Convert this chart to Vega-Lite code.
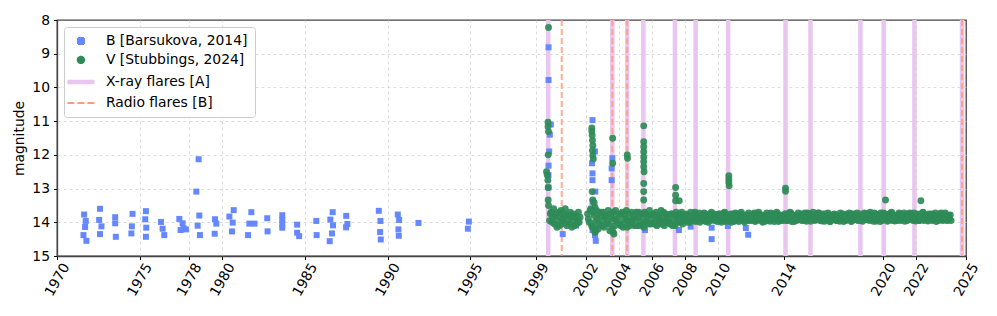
{
  "$schema": "https://vega.github.io/schema/vega-lite/v6.json",
  "width": 909,
  "height": 236,
  "autosize": {"type": "none"},
  "padding": {"left": 57, "top": 20, "right": 31, "bottom": 60},
  "config": {
    "font": "DejaVu Sans",
    "view": {"stroke": "#444444", "strokeWidth": 1.3},
    "axis": {
      "labelFont": "DejaVu Sans", "labelFontSize": 13.9, "labelColor": "black",
      "titleFont": "DejaVu Sans", "titleFontSize": 13.9, "titleFontWeight": "normal", "titleColor": "black",
      "domainColor": "#444444", "domainWidth": 1.3,
      "tickColor": "black", "tickSize": 3.5, "tickWidth": 1,
      "gridColor": "#d3d3d3", "gridDash": [3, 3], "gridWidth": 0.8
    },
    "axisY": {"labelOverlap": false, "labelFlush": false}
  },
  "datasets": {
    "xray": [
      {"t": 1999.72, "s": "X-ray flares [A]"}, {"t": 2003.6, "s": "X-ray flares [A]"}, {"t": 2004.5, "s": "X-ray flares [A]"},
      {"t": 2005.48, "s": "X-ray flares [A]"}, {"t": 2007.39, "s": "X-ray flares [A]"}, {"t": 2008.64, "s": "X-ray flares [A]"},
      {"t": 2010.61, "s": "X-ray flares [A]"}, {"t": 2014.08, "s": "X-ray flares [A]"}, {"t": 2015.59, "s": "X-ray flares [A]"},
      {"t": 2018.61, "s": "X-ray flares [A]"}, {"t": 2020.02, "s": "X-ray flares [A]"}, {"t": 2021.88, "s": "X-ray flares [A]"},
      {"t": 2024.76, "s": "X-ray flares [A]"}
    ],
    "radio": [
      {"t": 2000.54, "s": "Radio flares [B]"}, {"t": 2003.6, "s": "Radio flares [B]"},
      {"t": 2004.5, "s": "Radio flares [B]"}, {"t": 2024.76, "s": "Radio flares [B]"}
    ],
    "B": [
      {"t":1971.64,"m":13.77},{"t":1971.74,"m":13.96},{"t":1971.70,"m":14.14},{"t":1971.60,"m":14.38},{"t":1971.78,"m":14.55},
      {"t":1972.60,"m":13.60},{"t":1972.55,"m":13.93},{"t":1972.69,"m":14.12},{"t":1972.60,"m":14.35},
      {"t":1973.52,"m":13.85},{"t":1973.52,"m":14.03},{"t":1973.56,"m":14.43},
      {"t":1974.57,"m":13.75},{"t":1974.53,"m":14.12},{"t":1974.50,"m":14.33},
      {"t":1975.38,"m":13.67},{"t":1975.34,"m":13.91},{"t":1975.40,"m":14.16},{"t":1975.38,"m":14.43},
      {"t":1976.29,"m":13.99},{"t":1976.39,"m":14.19},{"t":1976.49,"m":14.38},
      {"t":1977.40,"m":13.90},{"t":1977.60,"m":14.03},{"t":1977.66,"m":14.18},{"t":1977.80,"m":14.21},{"t":1977.48,"m":14.23},
      {"t":1978.57,"m":12.13},{"t":1978.43,"m":13.09},{"t":1978.61,"m":13.80},{"t":1978.51,"m":14.10},{"t":1978.65,"m":14.38},
      {"t":1979.56,"m":13.91},{"t":1979.64,"m":14.04},{"t":1979.54,"m":14.34},
      {"t":1980.43,"m":13.83},{"t":1980.69,"m":13.64},{"t":1980.63,"m":14.01},{"t":1980.59,"m":14.27},
      {"t":1981.76,"m":13.70},{"t":1981.64,"m":14.04},{"t":1981.95,"m":14.04},{"t":1981.56,"m":14.38},
      {"t":1982.72,"m":13.88},{"t":1982.74,"m":14.27},
      {"t":1983.63,"m":13.79},{"t":1983.63,"m":13.93},{"t":1983.63,"m":14.06},{"t":1983.63,"m":14.16},
      {"t":1984.53,"m":14.07},{"t":1984.53,"m":14.31},{"t":1984.65,"m":14.41},
      {"t":1985.69,"m":13.96},{"t":1985.71,"m":14.38},
      {"t":1986.68,"m":13.70},{"t":1986.54,"m":13.92},{"t":1986.70,"m":14.09},{"t":1986.64,"m":14.33},{"t":1986.50,"m":14.56},
      {"t":1987.50,"m":13.81},{"t":1987.57,"m":14.05},{"t":1987.49,"m":14.15},
      {"t":1989.47,"m":13.66},{"t":1989.57,"m":13.96},{"t":1989.55,"m":14.29},{"t":1989.59,"m":14.51},
      {"t":1990.62,"m":13.77},{"t":1990.70,"m":13.93},{"t":1990.66,"m":14.21},{"t":1990.68,"m":14.40},
      {"t":1991.87,"m":14.02},{"t":1994.92,"m":13.98},{"t":1994.86,"m":14.19},
      {"t":1999.74,"m":8.81},{"t":1999.74,"m":9.78},{"t":1999.88,"m":11.1},{"t":1999.82,"m":11.4},{"t":1999.78,"m":11.9},
      {"t":1999.74,"m":12.32},{"t":1999.74,"m":12.6},{"t":1999.74,"m":12.97},
      {"t":2000.6,"m":14.35},{"t":2001.4,"m":14.1},
      {"t":2002.4,"m":10.97},{"t":2002.55,"m":11.9},{"t":2002.37,"m":12.25},{"t":2002.4,"m":12.55},{"t":2002.4,"m":12.75},
      {"t":2002.57,"m":13.09},{"t":2002.4,"m":13.39},{"t":2002.4,"m":14.23},{"t":2002.55,"m":14.38},{"t":2002.6,"m":14.55},
      {"t":2003.6,"m":12.1},{"t":2003.56,"m":12.4},{"t":2003.56,"m":12.75},
      {"t":2005.58,"m":14.23},{"t":2006.32,"m":14.06},{"t":2007.63,"m":14.23},{"t":2008.34,"m":14.13},
      {"t":2009.61,"m":14.16},{"t":2009.61,"m":14.5},{"t":2010.59,"m":14.11},{"t":2011.68,"m":14.17},{"t":2011.82,"m":14.37}
    ],
    "V": [
      {"t":1999.74,"m":8.22},{"t":1999.71,"m":11.03},{"t":1999.71,"m":11.16},{"t":1999.74,"m":11.31},{"t":1999.72,"m":12.0},
      {"t":1999.62,"m":12.5},{"t":1999.66,"m":12.6},{"t":1999.7,"m":12.75},{"t":1999.72,"m":12.97},{"t":1999.72,"m":13.34},{"t":1999.74,"m":13.5},
      {"t":2002.36,"m":11.2},{"t":2002.36,"m":11.3},{"t":2002.38,"m":11.42},{"t":2002.4,"m":11.57},{"t":2002.42,"m":11.72},
      {"t":2002.4,"m":11.87},{"t":2002.42,"m":12.02},{"t":2002.45,"m":12.12},{"t":2002.38,"m":13.09},{"t":2002.42,"m":13.34},
      {"t":2002.5,"m":13.42},{"t":2002.55,"m":13.55},{"t":2002.5,"m":14.2},{"t":2002.55,"m":14.3},
      {"t":2003.62,"m":11.51},{"t":2003.62,"m":12.25},{"t":2003.65,"m":14.3},{"t":2003.7,"m":14.35},
      {"t":2004.5,"m":12.0},{"t":2004.52,"m":12.1},
      {"t":2005.5,"m":11.14},{"t":2005.5,"m":11.61},{"t":2005.5,"m":11.76},{"t":2005.5,"m":11.91},{"t":2005.5,"m":12.06},
      {"t":2005.5,"m":12.2},{"t":2005.5,"m":12.35},{"t":2005.52,"m":12.5},{"t":2005.5,"m":12.85},{"t":2005.5,"m":13.09},{"t":2005.5,"m":13.34},
      {"t":2007.43,"m":12.97},{"t":2007.43,"m":13.2},{"t":2007.43,"m":13.36},{"t":2007.65,"m":13.36},
      {"t":2010.65,"m":12.62},{"t":2010.65,"m":12.72},{"t":2010.65,"m":12.82},{"t":2010.67,"m":12.92},
      {"t":2014.08,"m":12.99},{"t":2014.08,"m":13.08},{"t":2020.13,"m":13.34},{"t":2022.27,"m":13.36},
      {"t":1999.8,"m":13.95},{"t":1999.9,"m":13.7},
      {"t":2000.0,"m":13.85},{"t":2000.1,"m":14.05},{"t":2000.2,"m":13.75},{"t":2000.3,"m":13.95},{"t":2000.4,"m":14.1},{"t":2000.5,"m":13.65},{"t":2000.6,"m":13.9},{"t":2000.7,"m":14.0},{"t":2000.8,"m":13.8},{"t":2000.9,"m":13.95},
      {"t":2001.0,"m":14.05},{"t":2001.1,"m":13.85},{"t":2001.2,"m":13.95},{"t":2001.3,"m":14.1},{"t":2001.4,"m":13.8},{"t":2001.5,"m":13.9},{"t":2001.6,"m":14.0},
      {"t":2002.1,"m":13.75},{"t":2002.2,"m":14.0},{"t":2002.3,"m":13.6},{"t":2002.4,"m":14.15},{"t":2002.5,"m":13.8},{"t":2002.6,"m":14.25},{"t":2002.7,"m":13.9},{"t":2002.8,"m":14.05},{"t":2002.9,"m":13.7},
      {"t":2003.0,"m":13.95},{"t":2003.1,"m":14.15},{"t":2003.2,"m":13.8},{"t":2003.3,"m":13.95},{"t":2003.4,"m":14.05},{"t":2003.5,"m":13.75},{"t":2003.6,"m":14.2},{"t":2003.7,"m":13.9},{"t":2003.8,"m":13.65},{"t":2003.9,"m":14.0},
      {"t":2004.0,"m":13.85},{"t":2004.1,"m":14.1},{"t":2004.2,"m":13.7},{"t":2004.3,"m":14.0},{"t":2004.4,"m":13.9},{"t":2004.5,"m":14.15},{"t":2004.6,"m":13.75},{"t":2004.7,"m":13.95},{"t":2004.8,"m":14.05},{"t":2004.9,"m":13.8},
      {"t":2005.0,"m":13.9},{"t":2005.1,"m":14.1},{"t":2005.2,"m":13.7},{"t":2005.3,"m":14.0},{"t":2005.4,"m":13.85},{"t":2005.5,"m":14.15},{"t":2005.6,"m":13.75},{"t":2005.7,"m":13.95},{"t":2005.8,"m":14.05},{"t":2005.9,"m":13.8},
      {"t":2006.0,"m":14.0},{"t":2006.1,"m":13.75},{"t":2006.2,"m":13.95},{"t":2006.3,"m":14.1},{"t":2006.4,"m":13.8},{"t":2006.5,"m":13.9},{"t":2006.6,"m":14.05},{"t":2006.7,"m":13.7},{"t":2006.8,"m":13.95},{"t":2006.9,"m":14.0},
      {"t":2007.0,"m":13.85},{"t":2007.1,"m":14.05},{"t":2007.2,"m":13.75},{"t":2007.3,"m":13.95},{"t":2007.4,"m":14.1},{"t":2007.5,"m":13.8},{"t":2007.6,"m":13.9},{"t":2007.7,"m":14.0},{"t":2007.8,"m":13.7},{"t":2007.9,"m":13.95},
      {"t":2008.0,"m":13.9},{"t":2008.1,"m":13.75},{"t":2008.2,"m":13.95},{"t":2008.3,"m":14.0},{"t":2008.4,"m":13.8},{"t":2008.5,"m":13.9},{"t":2008.6,"m":13.7},{"t":2008.7,"m":13.95},{"t":2008.8,"m":13.85},{"t":2008.9,"m":14.0},
      {"t":2009.0,"m":13.8},{"t":2009.1,"m":13.95},{"t":2009.2,"m":13.75},{"t":2009.3,"m":13.9},{"t":2009.4,"m":14.0},{"t":2009.5,"m":13.8},{"t":2009.6,"m":13.7},{"t":2009.7,"m":13.9},{"t":2009.8,"m":13.95},{"t":2009.9,"m":13.8},
      {"t":2010.0,"m":13.9},{"t":2010.1,"m":13.75},{"t":2010.2,"m":14.0},{"t":2010.3,"m":13.85},{"t":2010.4,"m":13.7},{"t":2010.5,"m":13.95},{"t":2010.6,"m":13.8},{"t":2010.7,"m":13.9},{"t":2010.8,"m":14.0},{"t":2010.9,"m":13.75},
      {"t":2011.0,"m":13.85},{"t":2011.1,"m":13.95},{"t":2011.2,"m":13.75},{"t":2011.3,"m":13.9},{"t":2011.4,"m":13.7},{"t":2011.5,"m":13.85},{"t":2011.6,"m":14.0},{"t":2011.7,"m":13.8},{"t":2011.8,"m":13.9},{"t":2011.9,"m":13.95},
      {"t":2012.0,"m":13.8},{"t":2012.1,"m":13.9},{"t":2012.2,"m":13.72},{"t":2012.3,"m":13.95},{"t":2012.4,"m":13.85},{"t":2012.5,"m":13.75},{"t":2012.6,"m":13.9},{"t":2012.7,"m":14.0},{"t":2012.8,"m":13.8},{"t":2012.9,"m":13.9},
      {"t":2013.0,"m":13.95},{"t":2013.1,"m":13.8},{"t":2013.2,"m":13.72},{"t":2013.3,"m":13.9},{"t":2013.4,"m":13.98},{"t":2013.5,"m":13.85},{"t":2013.6,"m":13.75},{"t":2013.7,"m":13.9},{"t":2013.8,"m":13.95},{"t":2013.9,"m":13.8},
      {"t":2014.0,"m":13.9},{"t":2014.1,"m":13.75},{"t":2014.2,"m":13.95},{"t":2014.3,"m":13.85},{"t":2014.4,"m":13.72},{"t":2014.5,"m":13.9},{"t":2014.6,"m":13.98},{"t":2014.7,"m":13.8},{"t":2014.8,"m":13.92},{"t":2014.9,"m":13.85},
      {"t":2015.0,"m":13.75},{"t":2015.1,"m":13.9},{"t":2015.2,"m":13.95},{"t":2015.3,"m":13.8},{"t":2015.4,"m":13.72},{"t":2015.5,"m":13.88},{"t":2015.6,"m":13.97},{"t":2015.7,"m":13.85},{"t":2015.8,"m":13.78},{"t":2015.9,"m":13.92},
      {"t":2016.0,"m":13.85},{"t":2016.1,"m":13.72},{"t":2016.2,"m":13.9},{"t":2016.3,"m":13.96},{"t":2016.4,"m":13.8},{"t":2016.5,"m":13.75},{"t":2016.6,"m":13.92},{"t":2016.7,"m":13.85},{"t":2016.8,"m":13.98},{"t":2016.9,"m":13.8},
      {"t":2017.0,"m":13.9},{"t":2017.1,"m":13.78},{"t":2017.2,"m":13.95},{"t":2017.3,"m":13.85},{"t":2017.4,"m":13.72},{"t":2017.5,"m":13.9},{"t":2017.6,"m":13.98},{"t":2017.7,"m":13.82},{"t":2017.8,"m":13.75},{"t":2017.9,"m":13.92},
      {"t":2018.0,"m":13.85},{"t":2018.1,"m":13.96},{"t":2018.2,"m":13.78},{"t":2018.3,"m":13.9},{"t":2018.4,"m":13.72},{"t":2018.5,"m":13.88},{"t":2018.6,"m":13.95},{"t":2018.7,"m":13.8},{"t":2018.8,"m":13.9},{"t":2018.9,"m":13.75},
      {"t":2019.0,"m":13.92},{"t":2019.1,"m":13.82},{"t":2019.2,"m":13.7},{"t":2019.3,"m":13.9},{"t":2019.4,"m":13.97},{"t":2019.5,"m":13.85},{"t":2019.6,"m":13.76},{"t":2019.7,"m":13.92},{"t":2019.8,"m":13.98},{"t":2019.9,"m":13.8},
      {"t":2020.0,"m":13.72},{"t":2020.1,"m":13.88},{"t":2020.2,"m":13.78},{"t":2020.3,"m":13.95},{"t":2020.4,"m":13.85},{"t":2020.5,"m":13.7},{"t":2020.6,"m":13.9},{"t":2020.7,"m":13.96},{"t":2020.8,"m":13.8},{"t":2020.9,"m":13.88},
      {"t":2021.0,"m":13.75},{"t":2021.1,"m":13.92},{"t":2021.2,"m":13.85},{"t":2021.3,"m":13.97},{"t":2021.4,"m":13.78},{"t":2021.5,"m":13.9},{"t":2021.6,"m":13.72},{"t":2021.7,"m":13.88},{"t":2021.8,"m":13.95},{"t":2021.9,"m":13.82},
      {"t":2022.0,"m":13.9},{"t":2022.1,"m":13.78},{"t":2022.2,"m":13.95},{"t":2022.3,"m":13.85},{"t":2022.4,"m":13.7},{"t":2022.5,"m":13.92},{"t":2022.6,"m":13.8},{"t":2022.7,"m":13.96},{"t":2022.8,"m":13.88},{"t":2022.9,"m":13.75},
      {"t":2023.0,"m":13.92},{"t":2023.1,"m":13.85},{"t":2023.2,"m":13.98},{"t":2023.3,"m":13.78},{"t":2023.4,"m":13.9},{"t":2023.5,"m":13.72},{"t":2023.6,"m":13.95},{"t":2023.7,"m":13.85},{"t":2023.8,"m":13.8},{"t":2023.9,"m":13.94},
      {"t":2024.0,"m":13.88},{"t":2024.1,"m":13.95},
      {"t":1999.85,"m":13.75},{"t":1999.95,"m":14.0},
      {"t":2000.05,"m":13.6},{"t":2000.15,"m":13.8},{"t":2000.25,"m":14.15},{"t":2000.35,"m":13.7},{"t":2000.45,"m":13.85},{"t":2000.55,"m":14.05},{"t":2000.65,"m":13.75},{"t":2000.75,"m":13.6},{"t":2000.85,"m":14.1},{"t":2000.95,"m":13.8},
      {"t":2001.05,"m":13.7},{"t":2001.15,"m":14.15},{"t":2001.25,"m":13.75},{"t":2001.35,"m":13.85},{"t":2001.45,"m":14.05},{"t":2001.55,"m":13.7},{"t":2001.65,"m":13.85},
      {"t":2002.15,"m":13.9},{"t":2002.25,"m":13.65},{"t":2002.35,"m":14.1},{"t":2002.45,"m":13.7},{"t":2002.55,"m":14.0},{"t":2002.65,"m":13.65},{"t":2002.75,"m":14.2},{"t":2002.85,"m":13.8},{"t":2002.95,"m":14.1},
      {"t":2003.05,"m":13.7},{"t":2003.15,"m":13.85},{"t":2003.25,"m":14.05},{"t":2003.35,"m":13.65},{"t":2003.45,"m":14.25},{"t":2003.55,"m":13.85},{"t":2003.65,"m":13.7},{"t":2003.75,"m":14.1},{"t":2003.85,"m":13.95},{"t":2003.95,"m":13.75},
      {"t":2004.05,"m":14.05},{"t":2004.15,"m":13.75},{"t":2004.25,"m":14.15},{"t":2004.35,"m":13.8},{"t":2004.45,"m":13.65},{"t":2004.55,"m":13.95},{"t":2004.65,"m":14.1},{"t":2004.75,"m":13.7},{"t":2004.85,"m":13.9},{"t":2004.95,"m":14.1},
      {"t":2005.05,"m":13.7},{"t":2005.15,"m":13.85},{"t":2005.25,"m":14.1},{"t":2005.35,"m":13.75},{"t":2005.45,"m":14.05},{"t":2005.55,"m":13.7},{"t":2005.65,"m":14.0},{"t":2005.75,"m":13.8},{"t":2005.85,"m":13.65},{"t":2005.95,"m":14.05},
      {"t":2006.05,"m":13.8},{"t":2006.15,"m":14.05},{"t":2006.25,"m":13.7},{"t":2006.35,"m":13.85},{"t":2006.45,"m":14.0},{"t":2006.55,"m":13.65},{"t":2006.65,"m":13.85},{"t":2006.75,"m":14.1},{"t":2006.85,"m":13.75},{"t":2006.95,"m":13.8},
      {"t":2007.05,"m":14.0},{"t":2007.15,"m":13.75},{"t":2007.25,"m":14.1},{"t":2007.35,"m":13.8},{"t":2007.45,"m":13.7},{"t":2007.55,"m":14.0},{"t":2007.65,"m":13.75},{"t":2007.75,"m":13.85},{"t":2007.85,"m":14.05},{"t":2007.95,"m":13.8},
      {"t":2008.05,"m":13.78},{"t":2008.15,"m":14.0},{"t":2008.25,"m":13.82},{"t":2008.35,"m":13.7},{"t":2008.45,"m":13.95},{"t":2008.55,"m":13.75},{"t":2008.65,"m":13.98},{"t":2008.75,"m":13.8},{"t":2008.85,"m":13.72},{"t":2008.95,"m":13.9},
      {"t":2009.05,"m":13.95},{"t":2009.15,"m":13.72},{"t":2009.25,"m":13.98},{"t":2009.35,"m":13.82},{"t":2009.45,"m":13.75},{"t":2009.55,"m":13.95},{"t":2009.65,"m":13.9},{"t":2009.75,"m":13.75},{"t":2009.85,"m":13.8},{"t":2009.95,"m":13.98},
      {"t":2010.05,"m":13.75},{"t":2010.15,"m":13.95},{"t":2010.25,"m":13.8},{"t":2010.35,"m":13.72},{"t":2010.45,"m":13.98},{"t":2010.55,"m":13.8},{"t":2010.65,"m":13.95},{"t":2010.75,"m":13.75},{"t":2010.85,"m":13.82},{"t":2010.95,"m":13.98},
      {"t":2011.05,"m":13.72},{"t":2011.15,"m":13.8},{"t":2011.25,"m":13.98},{"t":2011.35,"m":13.75},{"t":2011.45,"m":13.95},{"t":2011.55,"m":13.92},{"t":2011.65,"m":13.78},{"t":2011.75,"m":13.95},{"t":2011.85,"m":13.72},{"t":2011.95,"m":13.85},
      {"t":2012.05,"m":13.95},{"t":2012.15,"m":13.75},{"t":2012.25,"m":13.98},{"t":2012.35,"m":13.8},{"t":2012.45,"m":13.7},{"t":2012.55,"m":13.95},{"t":2012.65,"m":13.78},{"t":2012.75,"m":13.85},{"t":2012.85,"m":13.97},{"t":2012.95,"m":13.72},
      {"t":2013.05,"m":13.78},{"t":2013.15,"m":13.97},{"t":2013.25,"m":13.9},{"t":2013.35,"m":13.75},{"t":2013.45,"m":13.82},{"t":2013.55,"m":13.7},{"t":2013.65,"m":13.98},{"t":2013.75,"m":13.78},{"t":2013.85,"m":13.85},{"t":2013.95,"m":13.95},
      {"t":2014.05,"m":13.75},{"t":2014.15,"m":13.95},{"t":2014.25,"m":13.8},{"t":2014.35,"m":13.7},{"t":2014.45,"m":13.98},{"t":2014.55,"m":13.78},{"t":2014.65,"m":13.82},{"t":2014.75,"m":13.95},{"t":2014.85,"m":13.72},{"t":2014.95,"m":13.9},
      {"t":2015.05,"m":13.95},{"t":2015.15,"m":13.8},{"t":2015.25,"m":13.72},{"t":2015.35,"m":13.97},{"t":2015.45,"m":13.9},{"t":2015.55,"m":13.75},{"t":2015.65,"m":13.82},{"t":2015.75,"m":13.7},{"t":2015.85,"m":13.95},{"t":2015.95,"m":13.78},
      {"t":2016.05,"m":13.72},{"t":2016.15,"m":13.95},{"t":2016.25,"m":13.8},{"t":2016.35,"m":13.75},{"t":2016.45,"m":13.97},{"t":2016.55,"m":13.9},{"t":2016.65,"m":13.72},{"t":2016.75,"m":13.98},{"t":2016.85,"m":13.78},{"t":2016.95,"m":13.92},
      {"t":2017.05,"m":13.75},{"t":2017.15,"m":13.95},{"t":2017.25,"m":13.8},{"t":2017.35,"m":13.97},{"t":2017.45,"m":13.9},{"t":2017.55,"m":13.75},{"t":2017.65,"m":13.82},{"t":2017.75,"m":13.95},{"t":2017.85,"m":13.9},{"t":2017.95,"m":13.72},
      {"t":2018.05,"m":13.98},{"t":2018.15,"m":13.75},{"t":2018.25,"m":13.92},{"t":2018.35,"m":13.8},{"t":2018.45,"m":13.95},{"t":2018.55,"m":13.75},{"t":2018.65,"m":13.82},{"t":2018.75,"m":13.97},{"t":2018.85,"m":13.72},{"t":2018.95,"m":13.9},
      {"t":2019.05,"m":13.75},{"t":2019.15,"m":13.95},{"t":2019.25,"m":13.9},{"t":2019.35,"m":13.78},{"t":2019.45,"m":13.72},{"t":2019.55,"m":13.97},{"t":2019.65,"m":13.9},{"t":2019.75,"m":13.8},{"t":2019.85,"m":13.72},{"t":2019.95,"m":13.95},
      {"t":2020.05,"m":13.9},{"t":2020.15,"m":13.75},{"t":2020.25,"m":13.97},{"t":2020.35,"m":13.8},{"t":2020.45,"m":13.72},{"t":2020.55,"m":13.95},{"t":2020.65,"m":13.78},{"t":2020.75,"m":13.82},{"t":2020.85,"m":13.95},{"t":2020.95,"m":13.72},
      {"t":2021.05,"m":13.95},{"t":2021.15,"m":13.8},{"t":2021.25,"m":13.72},{"t":2021.35,"m":13.85},{"t":2021.45,"m":13.95},{"t":2021.55,"m":13.75},{"t":2021.65,"m":13.92},{"t":2021.75,"m":13.8},{"t":2021.85,"m":13.72},{"t":2021.95,"m":13.96},
      {"t":2022.05,"m":13.75},{"t":2022.15,"m":13.95},{"t":2022.25,"m":13.82},{"t":2022.35,"m":13.72},{"t":2022.45,"m":13.95},{"t":2022.55,"m":13.78},{"t":2022.65,"m":13.92},{"t":2022.75,"m":13.75},{"t":2022.85,"m":13.8},{"t":2022.95,"m":13.95},
      {"t":2023.05,"m":13.78},{"t":2023.15,"m":13.72},{"t":2023.25,"m":13.85},{"t":2023.35,"m":13.95},{"t":2023.45,"m":13.75},{"t":2023.55,"m":13.9},{"t":2023.65,"m":13.8},{"t":2023.75,"m":13.72},{"t":2023.85,"m":13.95},{"t":2023.95,"m":13.8},
      {"t":2024.05,"m":13.78}
    ]
  },
  "layer": [
    {
      "data": {"name": "xray"},
      "mark": {"type": "rule", "strokeWidth": 4.5},
      "encoding": {
        "x": {
          "field": "t", "type": "quantitative",
          "scale": {"domain": [1970, 2025], "nice": false, "zero": false},
          "axis": {
            "title": null, "format": "d",
            "values": [1970, 1975, 1978, 1980, 1985, 1990, 1995, 1999, 2002, 2004, 2006, 2008, 2010, 2014, 2020, 2022, 2025],
            "labelAngle": -60, "labelAlign": "center", "labelBaseline": "middle", "labelPadding": 20,
            "labelOverlap": false, "labelFlush": false,
            "gridOpacity": {"condition": {"test": "datum.value == 1970 || datum.value == 2025", "value": 0}, "value": 1}
          }
        },
        "color": {
          "field": "s", "type": "nominal",
          "scale": {
            "domain": ["B [Barsukova, 2014]", "V [Stubbings, 2024]", "X-ray flares [A]", "Radio flares [B]"],
            "range": ["#6688ff", "#2e8b57", "#e8c6ef", "#ff9c78"]
          },
          "legend": {
            "title": null, "orient": "top-left", "offset": 7,
            "padding": 7, "rowPadding": 4, "symbolSize": 400, "symbolOffset": 3, "labelOffset": 18,
            "labelFont": "DejaVu Sans", "labelFontSize": 13.9, "labelColor": "black", "labelLimit": 0,
            "fillColor": "white", "strokeColor": "#cccccc", "cornerRadius": 3,
            "encode": {
              "symbols": {
                "update": {
                  "shape": {"signal": "datum.value == 'B [Barsukova, 2014]' ? 'square' : datum.value == 'V [Stubbings, 2024]' ? 'circle' : 'stroke'"},
                  "size": {"signal": "datum.value == 'B [Barsukova, 2014]' ? 36 : datum.value == 'V [Stubbings, 2024]' ? 40 : 740"},
                  "fill": {"signal": "datum.value == 'B [Barsukova, 2014]' ? '#6688ff' : datum.value == 'V [Stubbings, 2024]' ? '#2e8b57' : 'transparent'"},
                  "stroke": {"signal": "datum.value == 'X-ray flares [A]' ? '#e8c6ef' : datum.value == 'Radio flares [B]' ? '#ff9c78' : 'transparent'"},
                  "strokeWidth": {"signal": "datum.value == 'X-ray flares [A]' ? 4.5 : 2"},
                  "strokeDash": {"signal": "datum.value == 'Radio flares [B]' ? [7, 3] : [1, 0]"},
                  "opacity": {"value": 1}
                }
              }
            }
          }
        }
      }
    },
    {
      "data": {"name": "radio"},
      "mark": {"type": "rule", "strokeWidth": 2, "strokeDash": [6, 3], "opacity": 0.85},
      "encoding": {
        "x": {"field": "t", "type": "quantitative"},
        "color": {"field": "s", "type": "nominal"}
      }
    },
    {
      "data": {"name": "B"},
      "transform": [{"calculate": "'B [Barsukova, 2014]'", "as": "s"}],
      "mark": {"type": "point", "shape": "square", "filled": true, "size": 36, "opacity": 1},
      "encoding": {
        "x": {"field": "t", "type": "quantitative"},
        "y": {
          "field": "m", "type": "quantitative",
          "scale": {"domain": [8, 15], "reverse": true, "nice": false, "zero": false},
          "axis": {
            "title": "magnitude", "values": [8, 9, 10, 11, 12, 13, 14, 15], "labelPadding": 4, "titlePadding": 5,
            "labelOverlap": false, "labelFlush": false,
            "gridOpacity": {"condition": {"test": "datum.value == 8 || datum.value == 15", "value": 0}, "value": 1}
          }
        },
        "color": {"field": "s", "type": "nominal"}
      }
    },
    {
      "data": {"name": "V"},
      "transform": [{"calculate": "'V [Stubbings, 2024]'", "as": "s"}],
      "mark": {"type": "point", "shape": "circle", "filled": true, "size": 48, "opacity": 0.92},
      "encoding": {
        "x": {"field": "t", "type": "quantitative"},
        "y": {
          "field": "m", "type": "quantitative",
          "scale": {"domain": [8, 15], "reverse": true, "nice": false, "zero": false},
          "axis": {
            "title": "magnitude", "values": [8, 9, 10, 11, 12, 13, 14, 15], "labelPadding": 4, "titlePadding": 5,
            "labelOverlap": false, "labelFlush": false,
            "gridOpacity": {"condition": {"test": "datum.value == 8 || datum.value == 15", "value": 0}, "value": 1}
          }
        },
        "color": {"field": "s", "type": "nominal"}
      }
    }
  ]
}
